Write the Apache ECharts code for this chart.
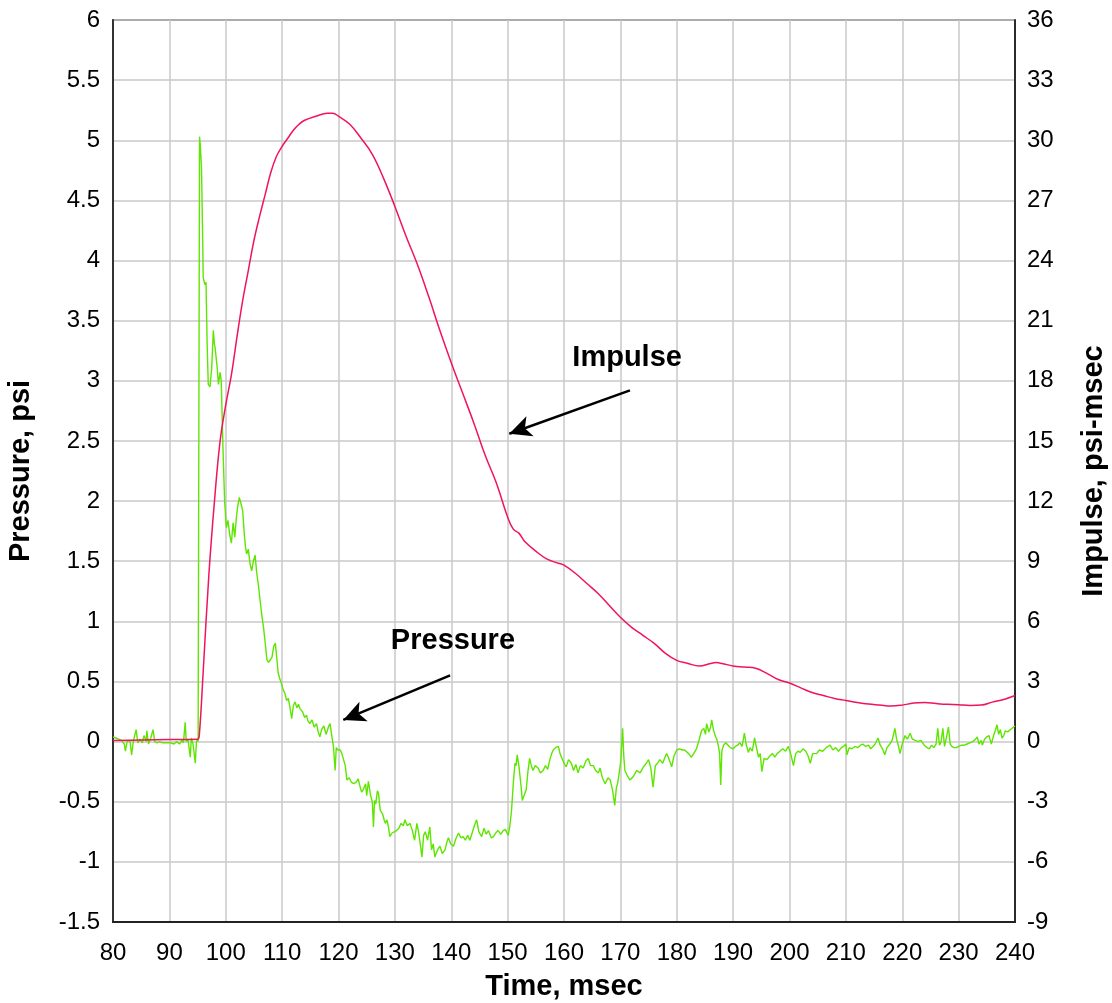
<!DOCTYPE html>
<html>
<head>
<meta charset="utf-8">
<script src="https://cdn.jsdelivr.net/npm/echarts@6/dist/echarts.min.js"></script>
<style>
html,body{margin:0;padding:0;background:#fff;}
#chart{width:1112px;height:1003px;}
</style>
</head>
<body>
<div id="chart"></div>
<script>
// Pressure record (time in msec, pressure in psi)
var pressureTime = [
80.0,80.5,81.0,81.5,82.0,82.2,82.5,83.0,83.3,83.6,84.1,84.4,84.8,85.2,85.5,85.9,86.0,86.3,86.7,87.1,87.4,87.8,88.3,88.8,89.3,89.8,90.3,90.8,91.3,91.8,92.2,92.5,92.8,93.0,93.3,93.7,93.9,94.2,94.6,94.8,95.0,95.1,95.35,95.5,95.7,95.9,96.0,96.3,96.5,96.7,96.9,97.2,97.5,97.8,98.0,98.1,98.3,98.5,98.7,99.0,99.2,99.5,99.8,100.1,100.4,100.7,101.0,101.3,101.6,101.9,102.1,102.4,102.7,103.0,103.3,103.5,103.7,104.0,104.3,104.6,104.9,105.2,105.5,105.8,106.1,106.4,106.7,107.0,107.3,107.6,107.9,108.2,108.5,108.8,109.0,109.3,109.6,109.9,110.2,110.5,110.8,111.1,111.4,111.7,112.0,112.3,112.6,112.9,113.2,113.6,114.0,114.3,114.6,114.9,115.3,115.7,116.1,116.4,116.7,117.0,117.4,117.8,118.2,118.5,118.8,119.1,119.4,119.6,119.9,120.3,120.6,120.9,121.2,121.5,121.9,122.3,122.7,123.1,123.5,123.8,124.1,124.4,124.8,125.0,125.3,125.7,126.0,126.2,126.4,126.6,126.9,127.1,127.4,127.8,128.1,128.3,128.6,128.9,129.1,129.5,129.9,130.3,130.7,131.1,131.5,131.8,132.2,132.7,133.1,133.5,133.9,134.2,134.5,134.8,135.1,135.4,135.8,136.2,136.5,136.8,137.1,137.4,137.7,138.0,138.4,138.9,139.2,139.5,139.9,140.4,140.8,141.3,141.7,142.1,142.5,142.9,143.3,143.7,144.1,144.5,144.9,145.4,145.8,146.2,146.6,147.1,147.5,147.9,148.3,148.8,149.2,149.6,150.1,150.4,150.7,151.0,151.3,151.5,151.7,152.0,152.2,152.4,152.6,152.9,153.3,153.6,153.9,154.2,154.5,154.9,155.4,155.8,156.3,156.7,157.1,157.5,157.8,158.1,158.5,159.0,159.3,159.6,160.0,160.4,160.8,161.3,161.7,162.1,162.5,162.9,163.4,163.9,164.3,164.7,165.2,165.6,166.1,166.4,166.8,167.3,167.8,168.2,168.6,169.0,169.3,169.5,169.8,170.1,170.4,170.6,170.8,171.2,171.7,172.3,172.9,173.5,174.1,174.6,175.0,175.4,175.8,176.2,176.6,177.0,177.5,178.0,178.2,178.6,179.1,179.5,180.0,180.5,181.0,181.4,181.7,182.1,182.6,183.0,183.5,184.0,184.4,184.8,185.1,185.3,185.7,186.0,186.2,186.5,186.8,187.1,187.4,187.6,187.8,188.0,188.3,188.7,189.1,189.5,190.0,190.4,190.8,191.2,191.6,192.0,192.3,192.7,193.0,193.4,193.8,194.1,194.5,194.8,195.1,195.5,196.0,196.5,197.0,197.4,197.8,198.3,198.8,199.3,199.8,200.2,200.7,201.1,201.5,201.9,202.4,202.9,203.3,203.7,204.1,204.8,205.3,205.9,206.5,207.2,207.7,208.2,208.7,209.2,209.6,210.0,210.2,210.6,211.1,211.6,212.1,212.6,213.0,213.5,214.0,214.4,214.8,215.2,215.7,216.1,216.5,216.9,217.3,217.8,218.2,218.4,218.7,219.0,219.3,219.6,220.0,220.5,220.9,221.4,221.8,222.3,222.8,223.3,223.9,224.4,224.8,225.2,225.6,226.0,226.3,226.6,226.9,227.2,227.5,227.9,228.2,228.5,228.8,229.2,229.6,230.0,230.5,231.0,231.5,232.0,232.5,233.0,233.3,233.6,234.0,234.2,234.6,235.0,235.4,235.8,236.2,236.5,236.8,237.1,237.4,237.7,238.0,238.3,238.7,239.2,239.7,240.0
];
var pressurePsi = [
0.04,0.03,0.02,0.01,-0.02,-0.08,0.0,0.01,-0.11,0.0,0.10,-0.01,0.02,-0.01,0.05,0.0,0.09,-0.02,0.03,0.10,0.0,-0.01,0.0,-0.01,-0.01,-0.01,-0.01,-0.02,0.0,-0.02,0.01,-0.01,0.16,0.0,0.02,-0.13,0.03,-0.02,-0.18,0.0,0.02,0.0,5.03,4.95,4.77,4.2,3.86,3.8,3.82,3.3,2.97,2.95,3.1,3.42,3.3,3.28,3.27,3.1,2.97,3.07,3.0,2.45,2.0,1.78,1.84,1.72,1.65,1.82,1.7,1.87,1.95,2.03,1.98,1.92,1.72,1.62,1.56,1.6,1.48,1.42,1.5,1.55,1.4,1.3,1.17,1.05,0.95,0.82,0.68,0.66,0.65,0.7,0.79,0.82,0.81,0.57,0.52,0.48,0.43,0.4,0.34,0.36,0.28,0.19,0.30,0.33,0.28,0.31,0.27,0.25,0.2,0.22,0.17,0.15,0.18,0.12,0.15,0.08,0.04,0.1,0.13,0.06,0.12,0.15,0.05,-0.04,-0.24,-0.05,-0.07,-0.07,-0.1,-0.15,-0.2,-0.32,-0.3,-0.34,-0.35,-0.34,-0.31,-0.37,-0.42,-0.40,-0.35,-0.45,-0.33,-0.45,-0.5,-0.71,-0.49,-0.52,-0.41,-0.43,-0.57,-0.6,-0.65,-0.68,-0.65,-0.72,-0.79,-0.76,-0.75,-0.74,-0.72,-0.68,-0.7,-0.65,-0.7,-0.68,-0.74,-0.82,-0.68,-0.75,-0.85,-0.96,-0.78,-0.75,-0.82,-0.71,-0.9,-0.85,-0.96,-0.92,-0.89,-0.87,-0.93,-0.9,-0.84,-0.8,-0.85,-0.87,-0.81,-0.76,-0.8,-0.79,-0.82,-0.78,-0.82,-0.76,-0.7,-0.65,-0.75,-0.79,-0.72,-0.77,-0.74,-0.8,-0.79,-0.76,-0.74,-0.77,-0.74,-0.73,-0.78,-0.7,-0.57,-0.35,-0.18,-0.2,-0.11,-0.2,-0.29,-0.38,-0.49,-0.45,-0.4,-0.25,-0.14,-0.2,-0.24,-0.2,-0.22,-0.26,-0.24,-0.2,-0.23,-0.15,-0.1,-0.07,-0.05,-0.04,-0.1,-0.09,-0.18,-0.21,-0.15,-0.18,-0.24,-0.19,-0.26,-0.2,-0.22,-0.16,-0.14,-0.2,-0.2,-0.24,-0.26,-0.22,-0.3,-0.35,-0.3,-0.32,-0.4,-0.53,-0.38,-0.35,-0.26,-0.15,0.11,-0.12,-0.24,-0.28,-0.32,-0.29,-0.24,-0.26,-0.21,-0.18,-0.15,-0.22,-0.38,-0.2,-0.18,-0.15,-0.18,-0.12,-0.1,-0.14,-0.21,-0.12,-0.07,-0.06,-0.07,-0.07,-0.07,-0.1,-0.13,-0.1,-0.06,0.02,0.09,0.11,0.06,0.15,0.08,0.12,0.18,0.1,0.05,0.02,-0.04,-0.1,-0.36,-0.08,-0.03,-0.01,-0.03,-0.05,-0.06,-0.04,-0.03,-0.01,-0.04,0.07,-0.02,-0.09,-0.05,-0.08,0.03,-0.04,-0.13,-0.1,-0.25,-0.14,-0.15,-0.12,-0.1,-0.13,-0.1,-0.08,-0.06,-0.08,-0.04,-0.1,-0.2,-0.1,-0.08,-0.09,-0.06,-0.08,-0.12,-0.18,-0.1,-0.1,-0.07,-0.08,-0.05,-0.03,-0.07,-0.05,-0.08,-0.05,-0.04,-0.02,-0.11,-0.05,-0.06,-0.04,-0.05,-0.03,-0.02,-0.04,-0.03,-0.06,-0.04,-0.02,0.03,-0.03,-0.06,-0.11,-0.05,-0.02,0.01,0.0,0.11,0.02,-0.03,-0.1,-0.02,0.05,0.02,0.07,0.02,0.01,0.0,0.01,-0.03,-0.05,-0.06,-0.03,-0.05,-0.02,0.11,-0.03,0.0,0.11,-0.04,0.05,0.12,-0.02,-0.04,-0.05,-0.05,-0.04,-0.03,-0.03,-0.02,-0.01,0.0,0.02,0.04,-0.02,0.01,-0.03,0.02,0.04,0.05,-0.02,0.05,0.09,0.14,0.06,0.1,0.03,0.05,0.09,0.08,0.1,0.12,0.13
];
// Impulse (time in msec, impulse in psi-msec)
var impulseTime = [80,85,90,95,95.3,96,97,98,99,100,101,102,103,104,105,106,107,108,109,110,111,112,113,114,116,118,119,120,122,124,126,128,130,132,134,136,138,140,142,144,146,148,150,151,152,153,155,157,159,160,162,164,166,168,170,172,174,176,178,180,182,184,186,187,188,190,192,194,196,198,200,202,204,206,208,210,212,214,216,218,220,222,224,226,228,230,232,234,236,238,240];
var impulseVal = [0.05,0.08,0.1,0.12,0.3,3.5,8.3,12.0,15.0,16.8,18.3,20.2,22.0,23.5,25.0,26.2,27.3,28.4,29.2,29.7,30.1,30.5,30.8,31.0,31.2,31.35,31.35,31.2,30.8,30.1,29.3,28.1,26.7,25.2,23.8,22.2,20.5,18.9,17.4,15.9,14.3,12.9,11.2,10.6,10.4,10.0,9.5,9.1,8.9,8.8,8.4,7.9,7.4,6.8,6.2,5.7,5.3,4.9,4.4,4.05,3.9,3.77,3.9,3.94,3.9,3.77,3.72,3.66,3.4,3.1,2.92,2.68,2.45,2.3,2.15,2.05,1.95,1.87,1.82,1.77,1.82,1.92,1.95,1.9,1.86,1.84,1.8,1.82,1.97,2.1,2.3];

// Annotations: label positions and arrows in data units (time, psi)
var pressureLabel = {text: 'Pressure', at: [140.3, 0.84]};
var pressureArrow = {from: [139.8, 0.55], to: [120.85, 0.18]};
var impulseLabel = {text: 'Impulse', at: [171.2, 3.19]};
var impulseArrow = {from: [171.7, 2.92], to: [150.3, 2.56]};

var FONT = '"Liberation Sans", Arial, sans-serif';
var pressureData = pressureTime.map(function (t, i) { return [t, pressurePsi[i]]; });
var impulseData = impulseTime.map(function (t, i) { return [t, impulseVal[i]]; });

var chart = echarts.init(document.getElementById('chart'), null, {renderer: 'canvas'});
var gridLine = {show: true, lineStyle: {color: '#c8c8c8', width: 1.5}};
var option = {
  animation: false,
  backgroundColor: '#ffffff',
  grid: {left: 113, right: 97, top: 20, bottom: 81, containLabel: false, outerBoundsMode: 'none',
         show: true, borderColor: '#222', borderWidth: 1.5, backgroundColor: 'transparent'},
  xAxis: {
    type: 'value', min: 80, max: 240, interval: 10,
    name: 'Time, msec', nameLocation: 'middle', nameGap: 50,
    nameTextStyle: {fontFamily: FONT, fontSize: 29, fontWeight: 'bold', color: '#000'},
    axisLine: {show: true, onZero: false, lineStyle: {color: '#222', width: 2}},
    axisTick: {show: false},
    axisLabel: {fontFamily: FONT, fontSize: 24, color: '#000', margin: 19},
    splitLine: gridLine
  },
  yAxis: [{
    type: 'value', min: -1.5, max: 6, interval: 0.5, position: 'left',
    name: 'Pressure, psi', nameLocation: 'middle', nameGap: 78, nameRotate: 90,
    nameTextStyle: {fontFamily: FONT, fontSize: 29, fontWeight: 'bold', color: '#000'},
    axisLine: {show: true, onZero: false, lineStyle: {color: '#333', width: 2}},
    axisTick: {show: false},
    axisLabel: {fontFamily: FONT, fontSize: 24, color: '#000', margin: 13},
    splitLine: gridLine
  }, {
    type: 'value', min: -9, max: 36, interval: 3, position: 'right',
    name: 'Impulse, psi-msec', nameLocation: 'middle', nameGap: 64, nameRotate: 90,
    nameTextStyle: {fontFamily: FONT, fontSize: 29, fontWeight: 'bold', color: '#000'},
    axisLine: {show: true, onZero: false, lineStyle: {color: '#000', width: 1.5}},
    axisTick: {show: false},
    axisLabel: {fontFamily: FONT, fontSize: 24, color: '#000', margin: 12},
    splitLine: {show: false}
  }],
  series: [{
    name: 'Pressure', type: 'line', yAxisIndex: 0, data: pressureData,
    showSymbol: false, symbol: 'none',
    lineStyle: {color: '#5ee600', width: 1.4},
    z: 2,
    markLine: {
      silent: true, animation: false,
      lineStyle: {color: '#000', width: 2.5, type: 'solid'},
      symbol: ['none', 'arrow'], symbolSize: [16, 22],
      label: {show: false},
      data: [
        [{coord: pressureArrow.from}, {coord: pressureArrow.to}],
        [{coord: impulseArrow.from}, {coord: impulseArrow.to}]
      ]
    },
    markPoint: {
      silent: true, animation: false,
      symbol: 'circle', symbolSize: 1, itemStyle: {color: 'rgba(0,0,0,0)'},
      label: {show: true, position: 'inside', fontFamily: FONT, fontSize: 29, fontWeight: 'bold', color: '#000'},
      data: [
        {coord: pressureLabel.at, label: {formatter: pressureLabel.text}},
        {coord: impulseLabel.at, label: {formatter: impulseLabel.text}}
      ]
    }
  }, {
    name: 'Impulse', type: 'line', yAxisIndex: 1, data: impulseData,
    showSymbol: false, symbol: 'none', smooth: 0.4,
    lineStyle: {color: '#f0145c', width: 1.5},
    z: 3
  }]
};
chart.setOption(option);
</script>
</body>
</html>
